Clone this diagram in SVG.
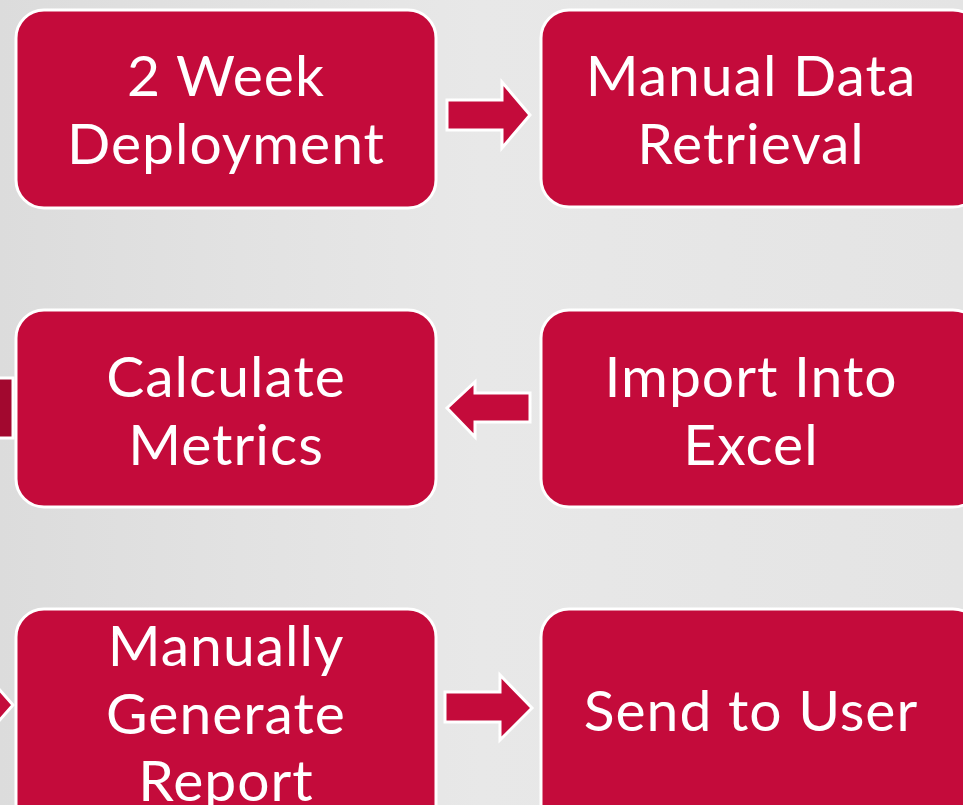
<svg xmlns="http://www.w3.org/2000/svg" width="963" height="805" viewBox="0 0 963 805">
<defs>
<linearGradient id="bg" x1="0" y1="0" x2="1" y2="0">
<stop offset="0" stop-color="#dcdcdc"/>
<stop offset="0.5" stop-color="#e8e8e8"/>
<stop offset="1" stop-color="#e4e4e4"/>
</linearGradient>
</defs>
<style>
.node{fill:#c40b3b;stroke:#ffffff;stroke-width:3}
.arrow{fill:#c40b3b;stroke:#ffffff;stroke-width:3;stroke-linejoin:miter}
.dark{fill:#a2082f;stroke:#ffffff;stroke-width:3}
.label{font-family:"Lato","DejaVu Sans",sans-serif;font-size:57px;letter-spacing:1px;fill:#ffffff;text-anchor:middle}
</style>
<rect x="0" y="0" width="963" height="805" fill="url(#bg)"/>
<g id="connectors">
<rect class="dark" x="-5" y="378" width="18" height="60"/>
<polygon class="arrow" points="-5,688 -2,688 13,705 -2,722 -5,722"/>
<polygon class="arrow" points="447,100 502,100 502,82 530,115 502,148 502,130 447,130"/>
<polygon class="arrow" points="530,393 475,393 475,382 447,408 475,437 475,422 530,422"/>
<polygon class="arrow" points="445,692 500,692 500,675 532,708 500,740 500,722 445,722"/>
</g>
<g id="node-deployment">
<rect class="node" x="16" y="10" width="420" height="198" rx="28"/>
<text class="label" x="226" y="96">2 Week</text>
<text class="label" x="226" y="164">Deployment</text>
</g>
<g id="node-retrieval">
<rect class="node" x="541" y="10" width="440" height="197" rx="28"/>
<text class="label" x="751" y="96">Manual Data</text>
<text class="label" x="751" y="164">Retrieval</text>
</g>
<g id="node-calculate">
<rect class="node" x="16" y="310" width="420" height="197" rx="28"/>
<text class="label" x="226" y="397">Calculate</text>
<text class="label" x="226" y="465">Metrics</text>
</g>
<g id="node-import">
<rect class="node" x="541" y="310" width="440" height="197" rx="28"/>
<text class="label" x="751" y="397">Import Into</text>
<text class="label" x="751" y="465">Excel</text>
</g>
<g id="node-report">
<rect class="node" x="16" y="609" width="420" height="230" rx="28"/>
<text class="label" x="226" y="666">Manually</text>
<text class="label" x="226" y="734">Generate</text>
<text class="label" x="226" y="801">Report</text>
</g>
<g id="node-send">
<rect class="node" x="541" y="609" width="440" height="230" rx="28"/>
<text class="label" x="751" y="731">Send to User</text>
</g>
</svg>
